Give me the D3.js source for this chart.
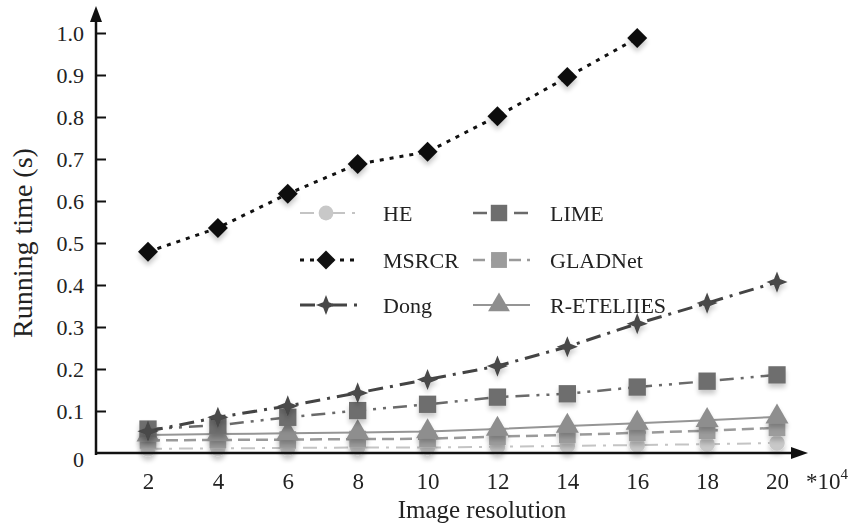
<!DOCTYPE html>
<html><head><meta charset="utf-8">
<script src="https://cdn.jsdelivr.net/npm/d3@7"></script>
<style>body{margin:0;background:#fff}svg{display:block}text{font-family:"Liberation Serif","Times New Roman",serif;fill:#222}</style>
</head><body><svg id="c" width="855" height="527"></svg>
<script>
const resolutions = [2,4,6,8,10,12,14,16,18,20];
const yTicks = [0,0.1,0.2,0.3,0.4,0.5,0.6,0.7,0.8,0.9,1.0];
const heVals     = [0.010,0.011,0.012,0.013,0.013,0.015,0.017,0.019,0.021,0.024];
const msrcrVals  = [0.479,0.536,0.617,0.688,0.717,0.802,0.895,0.988];
const dongVals   = [0.052,0.085,0.112,0.143,0.175,0.207,0.253,0.308,0.357,0.407];
const limeVals   = [0.057,0.066,0.085,0.101,0.116,0.133,0.141,0.157,0.171,0.186];
const gladVals   = [0.030,0.031,0.032,0.033,0.034,0.039,0.043,0.048,0.053,0.060];
const reteVals   = [0.043,0.045,0.047,0.049,0.051,0.057,0.064,0.071,0.078,0.086];

const svg = d3.select("#c");
const x = d3.scaleLinear().domain([2,20]).range([148,777]);
const y = d3.scaleLinear().domain([0,1]).range([453,33]);

const defs = svg.append("defs");
const f = defs.append("filter").attr("id","sh").attr("x","-50%").attr("y","-50%").attr("width","200%").attr("height","250%");
f.append("feGaussianBlur").attr("in","SourceAlpha").attr("stdDeviation",2.5);
f.append("feOffset").attr("dy",4).attr("result","b");
f.append("feComponentTransfer").append("feFuncA").attr("type","linear").attr("slope",0.22);
const m = f.append("feMerge"); m.append("feMergeNode"); m.append("feMergeNode").attr("in","SourceGraphic");

const star4 = {draw(ctx,size){const r=Math.sqrt(size)*0.75, s=r*0.28;
  ctx.moveTo(0,-r);ctx.lineTo(s,-s);ctx.lineTo(r,0);ctx.lineTo(s,s);ctx.lineTo(0,r);ctx.lineTo(-s,s);ctx.lineTo(-r,0);ctx.lineTo(-s,-s);ctx.closePath();}};

const series = [
 {name:"HE", vals:heVals, color:"#c4c4c4", mcolor:"#c8c8c8", dash:"14,7,3,7", w:2, sym:d3.symbolCircle, size:190, rot:0},
 {name:"GLADNet", vals:gladVals, color:"#9a9a9a", mcolor:"#9c9c9c", dash:"12,6", w:2.5, sym:d3.symbolSquare, size:280, rot:0},
 {name:"R-ETELIIES", vals:reteVals, color:"#959595", mcolor:"#8e8e8e", dash:null, w:2, sym:d3.symbolTriangle, size:230, rot:0},
 {name:"LIME", vals:limeVals, color:"#6a6a6a", mcolor:"#6e6e6e", dash:"14,7,3,7,3,7", w:2.5, sym:d3.symbolSquare, size:300, rot:0},
 {name:"Dong", vals:dongVals, color:"#444", mcolor:"#484848", dash:"15,7,3,7", w:3, sym:star4, size:200, rot:0},
 {name:"MSRCR", vals:msrcrVals, color:"#111", mcolor:"#111", dash:"4,6", w:3, sym:d3.symbolSquare, size:200, rot:45}
];

const line = d3.line().x(d=>x(d[0])).y(d=>y(d[1]));
series.forEach(s=>{
  const pts = s.vals.map((v,i)=>[resolutions[i],v]);
  svg.append("path").attr("d",line(pts)).attr("fill","none").attr("stroke",s.color)
    .attr("stroke-width",s.w).attr("stroke-dasharray",s.dash);
  svg.append("g").attr("filter","url(#sh)").selectAll("path").data(pts).join("path")
    .attr("d",d3.symbol().type(s.sym).size(s.size))
    .attr("transform",d=>`translate(${x(d[0])},${y(d[1])}) rotate(${s.rot})`)
    .attr("fill",s.mcolor);
});

// axes
const yAxis = d3.axisRight(y).tickValues(yTicks).tickSize(10).tickFormat(d=>d===0?"0":d3.format(".1f")(d));
const yg = svg.append("g").attr("transform","translate(96,0)").call(yAxis);
yg.select(".domain").remove();
yg.selectAll(".tick line").attr("stroke","#111").attr("stroke-width",2);
yg.selectAll(".tick text").attr("x",-12).attr("text-anchor","end").attr("font-size",22).attr("fill","#222").attr("dy","0.33em");
yg.selectAll(".tick").filter(d=>d===0).select("line").remove();
yg.selectAll(".tick").filter(d=>d===0).select("text").attr("dy","0.6em");

const xAxis = d3.axisBottom(x).tickValues(resolutions).tickSize(0).tickPadding(20);
const xg = svg.append("g").attr("transform","translate(0,453)").call(xAxis);
xg.select(".domain").remove();
xg.selectAll(".tick text").attr("font-size",23).attr("fill","#222");

svg.append("line").attr("x1",96).attr("y1",455).attr("x2",96).attr("y2",18).attr("stroke","#111").attr("stroke-width",2.5);
svg.append("line").attr("x1",95).attr("y1",453).attr("x2",795).attr("y2",453).attr("stroke","#111").attr("stroke-width",2.5);
svg.append("path").attr("d","M96,6 L90,22 L102,22 Z").attr("fill","#111");
svg.append("path").attr("d","M808,453 L791,447 L791,459 Z").attr("fill","#111");

const t = svg.append("text").attr("x",806).attr("y",489).attr("font-size",23);
t.append("tspan").text("*10");
t.append("tspan").attr("dy",-10).attr("font-size",15).text("4");

svg.append("text").attr("x",482).attr("y",518).attr("text-anchor","middle").attr("font-size",25).text("Image resolution");
svg.append("text").attr("transform","translate(32,243) rotate(-90)").attr("text-anchor","middle").attr("font-size",28).text("Running time (s)");

// legend
const legendRows = [["HE","LIME"],["MSRCR","GLADNet"],["Dong","R-ETELIIES"]];
const rowY = [213,260,305];
const colX = [300,473];
const textX = [383,550];
const byName = Object.fromEntries(series.map(s=>[s.name,s]));
legendRows.forEach((row,ri)=>row.forEach((name,ci)=>{
  const s = byName[name];
  const g = svg.append("g");
  const x0 = colX[ci], yy = rowY[ri];
  g.append("line").attr("x1",x0).attr("x2",x0+57).attr("y1",yy).attr("y2",yy).attr("stroke",s.color)
    .attr("stroke-width",s.w).attr("stroke-dasharray",s.dash);
  g.append("path").attr("d",d3.symbol().type(s.sym).size(s.size*0.9)).attr("fill",s.mcolor)
    .attr("transform",`translate(${x0+26},${yy}) rotate(${s.rot})`);
  g.append("text").attr("x",textX[ci]).attr("y",yy).attr("dy","0.35em").attr("font-size",22).text(name);
}));
</script></body></html>
